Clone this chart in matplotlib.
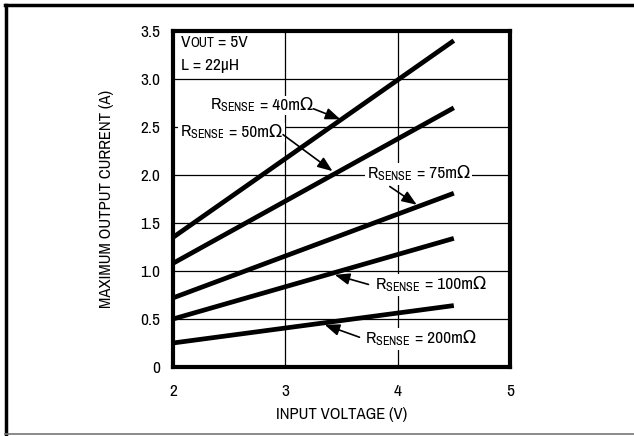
import matplotlib
matplotlib.use("Agg")
import matplotlib.pyplot as plt
from matplotlib import font_manager

names = {f.name for f in font_manager.fontManager.ttflist}
prefs = ["Nimbus Sans Narrow", "Liberation Sans Narrow", "Arial Narrow", "Archivo Narrow",
         "Roboto Condensed", "PT Sans Narrow", "Pragati Narrow", "Encode Sans Condensed",
         "Liberation Sans"]
FONT = next(p for p in prefs if p in names)
plt.rcParams["font.family"] = [FONT, "DejaVu Sans"]
plt.rcParams["mathtext.fontset"] = "custom"
plt.rcParams["mathtext.rm"] = FONT
plt.rcParams["mathtext.it"] = FONT

# Data
vin = [2.0, 4.5]
rsense_labels = ["40m\u03a9", "50m\u03a9", "75m\u03a9", "100m\u03a9", "200m\u03a9"]
i_40 = [1.35, 3.40]
i_50 = [1.08, 2.70]
i_75 = [0.72, 1.81]
i_100 = [0.50, 1.34]
i_200 = [0.25, 0.64]
series = [i_40, i_50, i_75, i_100, i_200]
x_ticks = [2, 3, 4, 5]
y_ticks = [0, 0.5, 1.0, 1.5, 2.0, 2.5, 3.0, 3.5]
y_ticklabels = ["0", "0.5", "1.0", "1.5", "2.0", "2.5", "3.0", "3.5"]

W, H = 634, 436
fig = plt.figure(figsize=(W / 100, H / 100), dpi=100)
ax = fig.add_axes([173 / W, 1 - 367 / H, (510 - 173) / W, (367 - 31) / H])

for s in series:
    ax.plot(vin, s, color="black", lw=3.4, solid_capstyle="butt", zorder=3)

ax.set_xlim(2, 5)
ax.set_ylim(0, 3.5)
ax.set_xticks(x_ticks)
ax.set_yticks(y_ticks)
ax.set_yticklabels(y_ticklabels)
ax.tick_params(length=0, labelsize=12.5, pad=9)
ax.tick_params(axis="x", pad=12)
ax.grid(True, color="black", lw=0.9, zorder=1)
for sp in ax.spines.values():
    sp.set_linewidth(3)
    sp.set_zorder(5)

ax.set_xlabel("INPUT VOLTAGE (V)", fontsize=12, labelpad=6)
ax.set_ylabel("MAXIMUM OUTPUT CURRENT (A)", fontsize=12, labelpad=19)

# Annotation text pieces
fs = 12.5
t1 = ax.text(2.07, 3.38, "V", fontsize=fs, va="center", ha="left", zorder=6)
t2 = ax.annotate("OUT", xy=(1, 0), xycoords=t1, fontsize=10, va="bottom", ha="left", zorder=6)
t3 = ax.annotate(" = 5V", xy=(1, 0), xycoords=t2, fontsize=fs, va="bottom", ha="left", zorder=6)
ax.text(2.07, 3.14, "L = 22\u00b5H", fontsize=fs, va="center", ha="left", zorder=6)

box = dict(boxstyle="square,pad=0.12", fc="white", ec="none")
arrow = dict(arrowstyle="-|>,head_length=0.9,head_width=0.35", color="black", lw=1.2,
             shrinkA=0, shrinkB=0)

label_pos = [(2.33, 2.68), (2.06, 2.40), (3.73, 1.97), (3.80, 0.81), (3.71, 0.25)]
arrow_from = [(3.25, 2.69), (2.98, 2.42), (3.93, 1.88), (3.74, 0.86), (3.66, 0.31)]
arrow_to = [(3.49, 2.58), (3.42, 2.04), (4.17, 1.69), (3.44, 0.96), (3.35, 0.44)]

for lab, pos, a0, a1 in zip(rsense_labels, label_pos, arrow_from, arrow_to):
    ta = ax.text(pos[0], pos[1], r"R$_{\mathregular{SENSE}}$", fontsize=fs,
                 va="baseline", ha="left", bbox=box, zorder=4)
    ax.annotate(" = " + lab, xy=(1, pos[1]), xycoords=(ta, "data"), fontsize=fs,
                va="baseline", ha="left", bbox=box, zorder=4)
    ax.annotate("", xy=a1, xytext=a0, arrowprops=arrow, zorder=6)

# Outer frame
fig.add_artist(plt.Line2D([6 / W, 6 / W], [1 - 5 / H, 1 - 434 / H], color="black", lw=2.5))
fig.add_artist(plt.Line2D([5 / W, 1.0], [1 - 5.5 / H, 1 - 5.5 / H], color="black", lw=2.5))
fig.add_artist(plt.Line2D([5 / W, 1.0], [1 - 434 / H, 1 - 434 / H], color="#777777", lw=1.2))

fig.savefig("out.png", dpi=100)
